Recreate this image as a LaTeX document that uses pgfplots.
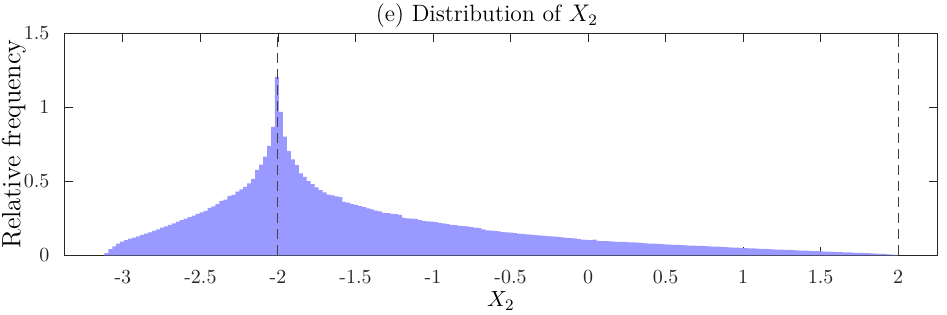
\documentclass[border=0pt]{standalone}
\usepackage{pgfplots}
\pgfplotsset{compat=1.18}
\definecolor{barc}{RGB}{153,153,255}
\definecolor{axc}{RGB}{38,38,38}
\begin{document}
\begin{tikzpicture}
\begin{axis}[
  scale only axis, width=436.85pt, height=111.15pt,
  xmin=-3.38, xmax=2.255, ymin=0, ymax=1.5,
  xtick={-3,-2.5,-2,-1.5,-1,-0.5,0,0.5,1,1.5,2},
  xticklabels={-3,-2.5,-2,-1.5,-1,-0.5,0,0.5,1,1.5,2},
  ytick={0,0.5,1,1.5}, yticklabels={0,0.5,1,1.5},
  tick align=inside, major tick length=4.3pt,
  axis line style={axc, line width=0.45pt},
  tick style={axc, line width=0.45pt},
  tick label style={font=\fontsize{10}{12}\selectfont, text=axc},
  xticklabel style={yshift=-4pt},
  yticklabel style={xshift=-3.8pt},
  xlabel={$X_2$}, ylabel={Relative frequency},
  every axis x label/.style={at={(axis description cs:0.5,0)}, anchor=base, yshift=-25.8pt, inner sep=0pt, font=\fontsize{11}{13}\selectfont},
  every axis y label/.style={at={(axis description cs:-0.0575,0.5)}, rotate=90, anchor=center, inner sep=0pt, font=\fontsize{13.2}{15}\selectfont},
  title={(e) Distribution of $X_2$},
  every axis title/.style={at={(axis description cs:0.484,1)}, anchor=base, yshift=5.5pt, inner sep=0pt, font=\fontsize{11.8}{14}\selectfont},
]
\addplot[const plot, fill=barc, draw=none] table[row sep=\\, x expr=-3.12+0.0256*\thisrow{k}, y=v] {
k v\\
0 0.015\\ 1 0.042\\ 2 0.060\\ 3 0.078\\ 4 0.092\\ 5 0.103\\ 6 0.112\\ 7 0.120\\ 8 0.128\\ 9 0.137\\
10 0.146\\ 11 0.155\\ 12 0.165\\ 13 0.175\\ 14 0.186\\ 15 0.196\\ 16 0.206\\ 17 0.216\\ 18 0.227\\ 19 0.237\\
20 0.248\\ 21 0.258\\ 22 0.268\\ 23 0.279\\ 24 0.290\\ 25 0.300\\ 26 0.320\\ 27 0.330\\ 28 0.346\\ 29 0.368\\
30 0.375\\ 31 0.400\\ 32 0.407\\ 33 0.430\\ 34 0.445\\ 35 0.462\\ 36 0.485\\ 37 0.515\\ 38 0.577\\ 39 0.611\\
40 0.665\\ 41 0.738\\ 42 0.867\\ 43 1.204\\ 44 0.968\\ 45 0.800\\ 46 0.703\\ 47 0.647\\ 48 0.609\\ 49 0.553\\
50 0.530\\ 51 0.501\\ 52 0.481\\ 53 0.459\\ 54 0.440\\ 55 0.425\\ 56 0.410\\ 57 0.405\\ 58 0.398\\ 59 0.392\\
60 0.360\\ 61 0.355\\ 62 0.346\\ 63 0.340\\ 64 0.332\\ 65 0.325\\ 66 0.316\\ 67 0.310\\ 68 0.301\\ 69 0.296\\
70 0.287\\ 71 0.284\\ 72 0.280\\ 73 0.277\\ 74 0.272\\ 75 0.252\\ 76 0.249\\ 77 0.247\\ 78 0.245\\ 79 0.238\\
80 0.232\\ 81 0.229\\ 82 0.227\\ 83 0.224\\ 84 0.218\\ 85 0.215\\ 86 0.210\\ 87 0.205\\ 88 0.203\\ 89 0.198\\
90 0.197\\ 91 0.195\\ 92 0.190\\ 93 0.187\\ 94 0.184\\ 95 0.175\\ 96 0.168\\ 97 0.166\\ 98 0.165\\ 99 0.162\\
100 0.157\\ 101 0.155\\ 102 0.153\\ 103 0.150\\ 104 0.146\\ 105 0.144\\ 106 0.142\\ 107 0.139\\ 108 0.136\\ 109 0.135\\
110 0.133\\ 111 0.130\\ 112 0.127\\ 113 0.126\\ 114 0.124\\ 115 0.121\\ 116 0.118\\ 117 0.116\\ 118 0.114\\ 119 0.111\\
120 0.106\\ 121 0.104\\ 122 0.102\\ 123 0.106\\ 124 0.097\\ 125 0.096\\ 126 0.095\\ 127 0.094\\ 128 0.093\\ 129 0.091\\
130 0.090\\ 131 0.089\\ 132 0.088\\ 133 0.087\\ 134 0.085\\ 135 0.083\\ 136 0.081\\ 137 0.079\\ 138 0.078\\ 139 0.077\\
140 0.075\\ 141 0.073\\ 142 0.072\\ 143 0.071\\ 144 0.070\\ 145 0.068\\ 146 0.067\\ 147 0.066\\ 148 0.065\\ 149 0.064\\
150 0.063\\ 151 0.062\\ 152 0.060\\ 153 0.059\\ 154 0.058\\ 155 0.056\\ 156 0.055\\ 157 0.054\\ 158 0.052\\ 159 0.051\\
160 0.049\\ 161 0.048\\ 162 0.047\\ 163 0.046\\ 164 0.045\\ 165 0.044\\ 166 0.043\\ 167 0.042\\ 168 0.040\\ 169 0.039\\
170 0.038\\ 171 0.037\\ 172 0.036\\ 173 0.035\\ 174 0.034\\ 175 0.032\\ 176 0.031\\ 177 0.030\\ 178 0.029\\ 179 0.028\\
180 0.027\\ 181 0.025\\ 182 0.024\\ 183 0.023\\ 184 0.022\\ 185 0.021\\ 186 0.020\\ 187 0.019\\ 188 0.018\\ 189 0.017\\
190 0.016\\ 191 0.015\\ 192 0.014\\ 193 0.013\\ 194 0.012\\ 195 0.010\\ 196 0.009\\ 197 0.007\\ 198 0.005\\ 199 0.003\\
200 0.003\\
} \closedcycle;
\addplot[black!75, line width=0.5pt, dash pattern=on 5pt off 3pt] coordinates {(-2,0) (-2,1.5)};
\addplot[black!75, line width=0.5pt, dash pattern=on 5pt off 3pt] coordinates {(2,0) (2,1.5)};
\end{axis}
\pgfresetboundingbox
\path ([shift={(-32pt,-29.85pt)}]current axis.south west) rectangle ([shift={(4.65pt,16.5pt)}]current axis.north east);
\end{tikzpicture}
\end{document}
